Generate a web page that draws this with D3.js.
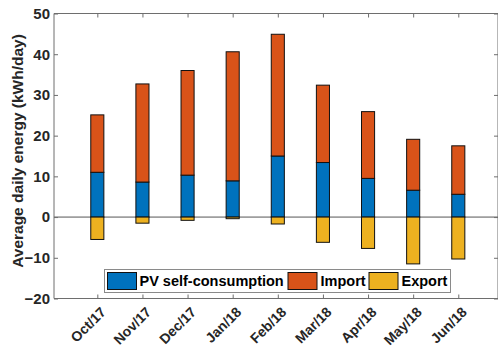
<!DOCTYPE html>
<html>
<head>
<meta charset="utf-8">
<script src="https://cdn.jsdelivr.net/npm/d3@7/dist/d3.min.js"></script>
<style>
  html, body { margin: 0; padding: 0; background: #fff; }
  svg { display: block; }
  text { font-family: "Liberation Sans", Arial, sans-serif; }
</style>
</head>
<body>
<svg id="chart" width="498" height="349"></svg>
<script>
const categories = ["Oct/17", "Nov/17", "Dec/17", "Jan/18", "Feb/18", "Mar/18", "Apr/18", "May/18", "Jun/18"];
const pvSelf = [11.0, 8.6, 10.3, 8.9, 15.0, 13.4, 9.5, 6.6, 5.6];
const importE = [14.1, 24.1, 25.7, 31.7, 29.9, 19.0, 16.4, 12.5, 11.9];
const exportE = [-5.5, -1.5, -0.8, -0.4, -1.7, -6.2, -7.7, -11.5, -10.3];
const yTicks = [-20, -10, 0, 10, 20, 30, 40, 50];
const seriesNames = ["PV self-consumption", "Import", "Export"];
const colors = ["#0072BD", "#D95319", "#EDB120"];

const svg = d3.select("#chart");
const L = 54, R = 498, T = 13.5, B = 298.5;
const FF = "'Liberation Sans', Arial, sans-serif";

const x = d3.scaleLinear().domain([0.04, 9.88]).range([L, R]);
const y = d3.scaleLinear().domain([-20, 50]).range([B, T]);
const step = x(2) - x(1);
const bw = step * 0.29;

// zero line
svg.append("line")
  .attr("x1", L).attr("x2", R)
  .attr("y1", y(0)).attr("y2", y(0))
  .attr("stroke", "#555").attr("stroke-width", 1);

const g = svg.append("g");
categories.forEach((c, i) => {
  const cx = x(i + 1);
  const segs = [
    [0, pvSelf[i], colors[0]],
    [pvSelf[i], pvSelf[i] + importE[i], colors[1]],
    [exportE[i], 0, colors[2]]
  ];
  segs.forEach(([a, b, col]) => {
    g.append("rect")
      .attr("x", cx - bw / 2)
      .attr("y", y(Math.max(a, b)))
      .attr("width", bw)
      .attr("height", Math.abs(y(a) - y(b)))
      .attr("fill", col)
      .attr("stroke", "#111")
      .attr("stroke-width", 1);
  });
});

// axes frame
const axisColor = "#6e6e6e";
svg.append("line").attr("x1", L).attr("x2", R).attr("y1", T).attr("y2", T).attr("stroke", axisColor);
svg.append("line").attr("x1", L).attr("x2", R).attr("y1", B).attr("y2", B).attr("stroke", axisColor);
svg.append("line").attr("x1", L).attr("x2", L).attr("y1", T).attr("y2", B).attr("stroke", axisColor);
svg.append("line").attr("x1", R).attr("x2", R).attr("y1", T).attr("y2", B).attr("stroke", axisColor);

// left axis
const yAxis = d3.axisLeft(y).tickValues(yTicks).tickSize(-4).tickPadding(4).tickFormat(d3.format("d"));
const ya = svg.append("g").attr("transform", `translate(${L},0)`).call(yAxis);
ya.select(".domain").remove();
ya.selectAll("line").attr("stroke", axisColor);
ya.selectAll("text").attr("font-size", 15).attr("font-weight", "bold").attr("fill", "#262626")
  .attr("font-family", FF);

// right ticks
const yAxisR = d3.axisRight(y).tickValues(yTicks).tickSize(-4).tickFormat("");
const yr = svg.append("g").attr("transform", `translate(${R},0)`).call(yAxisR);
yr.select(".domain").remove();
yr.selectAll("line").attr("stroke", axisColor);

// top ticks
const xIdx = categories.map((c, i) => i + 1);
const xAxisT = d3.axisTop(x).tickValues(xIdx).tickSize(-4).tickFormat("");
const xt = svg.append("g").attr("transform", `translate(0,${T})`).call(xAxisT);
xt.select(".domain").remove();
xt.selectAll("line").attr("stroke", axisColor);

// bottom axis
const xAxisB = d3.axisBottom(x).tickValues(xIdx).tickSize(-4).tickFormat((d) => categories[d - 1]);
const xb = svg.append("g").attr("transform", `translate(0,${B})`).call(xAxisB);
xb.select(".domain").remove();
xb.selectAll("line").attr("stroke", axisColor);
xb.selectAll("text")
  .attr("font-size", 14).attr("font-weight", "bold").attr("fill", "#262626")
  .attr("font-family", FF)
  .attr("text-anchor", "end")
  .attr("x", 0).attr("y", 0).attr("dy", 0)
  .attr("transform", "translate(9,14.5) rotate(-45)");

// y label
svg.append("text")
  .attr("transform", `translate(23,151) rotate(-90)`)
  .attr("text-anchor", "middle")
  .attr("font-size", 15.5).attr("font-weight", "bold").attr("fill", "#262626")
  .attr("font-family", FF)
  .text("Average daily energy (kWh/day)");

// legend
const lg = svg.append("g");
lg.append("rect").attr("x", 104.5).attr("y", 269.5).attr("width", 346).attr("height", 23)
  .attr("fill", "#fff").attr("stroke", "#8a8a8a").attr("stroke-width", 1);
const legendItems = [
  { sx: 107.5, tx: 139.5 },
  { sx: 288, tx: 320.5 },
  { sx: 369, tx: 401.5 }
];
seriesNames.forEach((n, i) => {
  lg.append("rect").attr("x", legendItems[i].sx).attr("y", 272.5).attr("width", 29).attr("height", 17)
    .attr("fill", colors[i]).attr("stroke", "#111").attr("stroke-width", 1);
  lg.append("text").attr("x", legendItems[i].tx).attr("y", 286.3)
    .attr("font-size", 14.5).attr("font-weight", "bold").attr("fill", "#000")
    .attr("font-family", FF)
    .text(n);
});
</script>
</body>
</html>
